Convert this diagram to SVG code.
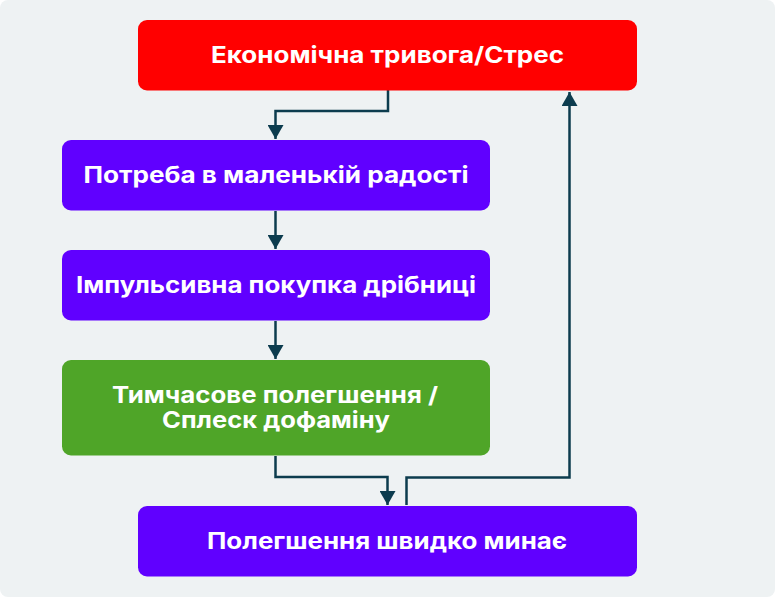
<svg xmlns="http://www.w3.org/2000/svg" width="775" height="597" viewBox="0 0 775 597">
<defs>
<style>
.t{font-family:Inter,"Open Sans","DejaVu Sans",sans-serif;font-weight:700;font-size:22.5px;fill:#FFFFFF;text-anchor:middle}
.c{fill:none;stroke:#0C3C4E;stroke-width:2.5}
.p{fill:#6000FF}
</style>
<marker id="ah" markerUnits="userSpaceOnUse" markerWidth="18" markerHeight="16" refX="15" refY="8.5" orient="auto" viewBox="0 0 16 17">
<path d="M0,0 L15,8.5 L0,17 Z" fill="#0C3C4E"/>
</marker>
</defs>
<rect x="0" y="0" width="775" height="597" rx="8" fill="#EEF2F3"/>
<g id="connectors">
<path class="c" d="M388,90 V111 H275.5 V139" marker-end="url(#ah)"/>
<path class="c" d="M275.5,211 V249" marker-end="url(#ah)"/>
<path class="c" d="M275.5,321 V359" marker-end="url(#ah)"/>
<path class="c" d="M275.5,456 V477 H387.5 V505" marker-end="url(#ah)"/>
<path class="c" d="M406.5,505 V477.5 H569.5 V92" marker-end="url(#ah)"/>
</g>
<g id="n1"><rect x="138" y="20" width="499" height="70.5" rx="9" fill="#FF0000"/><text class="t" x="387.5" y="63" textLength="353" lengthAdjust="spacingAndGlyphs">Економічна тривога/Стрес</text></g>
<g id="n2"><rect class="p" x="62" y="140" width="428" height="70.5" rx="9"/><text class="t" x="276" y="183" textLength="385" lengthAdjust="spacingAndGlyphs">Потреба в маленькій радості</text></g>
<g id="n3"><rect class="p" x="62" y="250" width="428" height="70.5" rx="9"/><text class="t" x="276" y="293" textLength="400" lengthAdjust="spacingAndGlyphs">Імпульсивна покупка дрібниці</text></g>
<g id="n4"><rect x="62" y="360" width="428" height="95.5" rx="9" fill="#4FA528"/><text class="t" x="275" y="403" textLength="326" lengthAdjust="spacingAndGlyphs">Тимчасове полегшення /</text><text class="t" x="276" y="428" textLength="228" lengthAdjust="spacingAndGlyphs">Сплеск дофаміну</text></g>
<g id="n5"><rect class="p" x="138" y="506" width="499" height="70.5" rx="9"/><text class="t" x="387" y="549" textLength="360" lengthAdjust="spacingAndGlyphs">Полегшення швидко минає</text></g>
</svg>
